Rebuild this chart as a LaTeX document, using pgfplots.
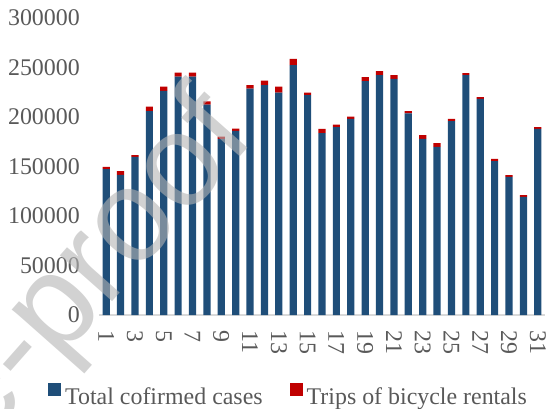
\documentclass[border=0pt]{standalone}
\usepackage{fontspec}
\setmainfont{Liberation Serif}
\newfontfamily\wmfont{Liberation Sans}
\usepackage{graphicx}
\usepackage{pgfplots}
\pgfplotsset{compat=1.18}
\definecolor{cblue}{HTML}{1F4E79}
\definecolor{cred}{HTML}{C00000}
\definecolor{ctext}{HTML}{595959}
\definecolor{caxis}{HTML}{D9D9D9}
\definecolor{wm}{RGB}{180,180,180}
\begin{document}
\begin{tikzpicture}
\path[use as bounding box] (-99bp,-94bp) rectangle (454bp,315bp);
\begin{axis}[
  at={(0,0)}, anchor=south west,
  scale only axis, width=446bp, height=297bp,
  ybar stacked, bar width=7.2bp,
  xmin=0.5, xmax=31.5, ymin=0, ymax=300000,
  xtick={1,3,...,31}, ytick={0,50000,...,300000},
  scaled y ticks=false,
  /pgf/number format/assume math mode=true,
  tick label style={font=\fontsize{24}{28}\selectfont, text=ctext, inner sep=0pt},
  y tick label style={/pgf/number format/fixed, /pgf/number format/1000 sep={}},
  yticklabel shift=19bp,
  xticklabel={\rotatebox{-90}{\pgfmathprintnumber{\tick}}},
  x tick label style={anchor=north},
  xticklabel shift=15bp,
  major tick length=0pt,
  axis lines*=left,
  y axis line style={draw=none},
  x axis line style={draw=caxis, line width=1.5bp},
  legend columns=2,
  legend style={draw=none, fill=none, at={(-0.1211,-0.2677)}, anchor=west,
    font=\fontsize{24}{28}\selectfont, text=ctext,
    nodes={inner sep=0pt},
    /tikz/every even column/.append style={column sep=27bp}},
  legend image code/.code={\fill[#1, draw=none] (0bp,1.5bp) rectangle (13bp,14.5bp); \path (17bp,0bp);},
]
\addplot[fill=cblue, draw=none] coordinates {
(1,147300) (2,141500) (3,159600) (4,206000) (5,226500) (6,240700) (7,240700) (8,212400)
(9,177800) (10,186100) (11,228600) (12,232300) (13,224500) (14,252500) (15,222200) (16,183800)
(17,189900) (18,198000) (19,236300) (20,242400) (21,238400) (22,203700) (23,177800) (24,169700)
(25,195900) (26,242400) (27,218200) (28,155500) (29,139400) (30,119200) (31,187900)};
\addplot[fill=cred, draw=none] coordinates {
(1,2200) (2,3900) (3,2000) (4,4400) (5,4100) (6,4000) (7,4000) (8,3300)
(9,2300) (10,2100) (11,3700) (12,4400) (13,6100) (14,6100) (15,2300) (16,4100)
(17,2300) (18,2300) (19,4100) (20,4000) (21,4000) (22,2300) (23,4000) (24,4000)
(25,2100) (26,2000) (27,2000) (28,2100) (29,2000) (30,2000) (31,2000)};
\legend{Total cofirmed cases, Trips of bicycle rentals}
\end{axis}
\node[overlay, rotate=48.5, anchor=base east, inner sep=0pt, text=wm, opacity=0.6,
  font=\wmfont\fontsize{132}{134}\selectfont] at (158bp,177bp) {Journal Pre-proof};
\end{tikzpicture}
\end{document}
